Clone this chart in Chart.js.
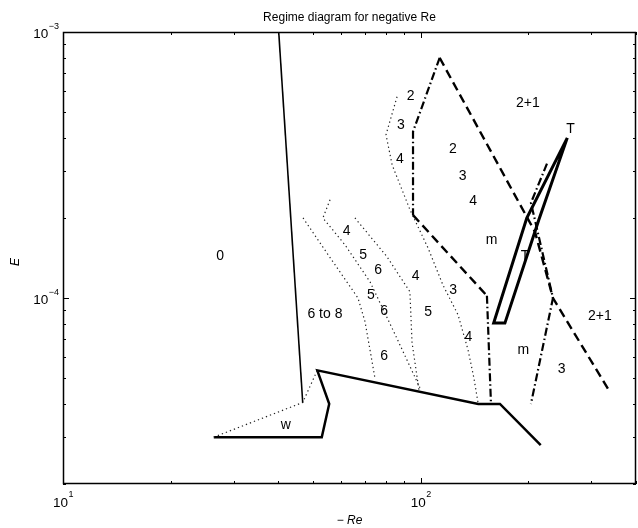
<!DOCTYPE html>
<html>
<head>
<meta charset="utf-8">
<script src="https://cdn.jsdelivr.net/npm/chart.js@4.4.1/dist/chart.umd.min.js"></script>
<style>
  html, body { margin: 0; padding: 0; background: #fff; }
  #wrap { width: 638px; height: 528px; }
</style>
</head>
<body>
<div id="wrap"><canvas id="regimeChart" width="638" height="528"></canvas></div>
<script>
// axis ranges (-Re on x, E on y, both log)
const reMin = 10, reMax = 400;
const eMin = 2e-5, eMax = 1e-3;

const reTicks = [10, 20, 30, 40, 50, 60, 70, 80, 90, 100, 200, 300, 400];
const eTicks = [2e-5, 3e-5, 4e-5, 5e-5, 6e-5, 7e-5, 8e-5, 9e-5,
  1e-4, 2e-4, 3e-4, 4e-4, 5e-4, 6e-4, 7e-4, 8e-4, 9e-4, 1e-3];
const reMajor = [10, 100];
const reMajorExp = ['1', '2'];
const eMajor = [1e-4, 1e-3];
const eMajorExp = ['\u22124', '\u22123'];

// boundary curves
const thinRe = [40.1, 46.8];
const thinE = [1e-3, 4.05e-5];

const wRe = [26.4, 46.8, 51.4];
const wE = [3e-5, 4.05e-5, 5.35e-5];

const floorRe = [26.4, 52.9, 55.5, 51.4, 144.9, 166.6, 216.6];
const floorE = [3e-5, 3e-5, 4e-5, 5.35e-5, 4e-5, 4e-5, 2.8e-5];

const tRe = [257, 198, 160, 172, 214, 257];
const tE = [4e-4, 2e-4, 8.05e-5, 8.05e-5, 1.97e-4, 4e-4];

const dashMainRe = [113, 208.7, 234.4, 338];
const dashMainE = [8e-4, 1.775e-4, 1e-4, 4.44e-5];
const dashMidRe = [95.2, 153.2];
const dashMidE = [2.05e-4, 1.02e-4];

const dashDotTopRe = [113, 95.2, 95.2];
const dashDotTopE = [8e-4, 4.22e-4, 2.05e-4];
const dashDotVertRe = [153.2, 157.2];
const dashDotVertE = [1.02e-4, 4.05e-5];
const dashDotRightRe = [225.5, 203.4, 234.4, 203.4];
const dashDotRightE = [3.2e-4, 2.28e-4, 1e-4, 4e-5];

const dotARe = [85.9, 80.0, 83.2, 93.3, 104.8, 115.4, 127.2, 135.6, 140.9, 144.6];
const dotAE = [5.71e-4, 4.11e-4, 3.17e-4, 2.15e-4, 1.545e-4, 1.12e-4, 8.65e-5, 6.4e-5, 5.0e-5, 4.06e-5];
const dotBRe = [65.5, 80.5, 93.3, 94.6, 98.9];
const dotBE = [2.0e-4, 1.43e-4, 1.056e-4, 6.8e-5, 4.52e-5];
const dotCRe = [55.8, 53.3, 61.4, 72.2, 84.8, 99.5];
const dotCE = [2.34e-4, 2.0e-4, 1.586e-4, 1.15e-4, 7.3e-5, 4.6e-5];
const dotDRe = [46.9, 55.1, 66.8, 69.9, 74.5];
const dotDE = [2.0e-4, 1.455e-4, 1.0e-4, 8.15e-5, 5.0e-5];

// regime labels
const labelText = ['0', '6 to 8', 'w', '2', '3', '4', '2', '3', '4', '2+1', 'T', 'm', 'T',
  '4', '5', '6', '4', '5', '6', '6', '5', '3', '4', 'm', '3', '2+1'];
const labelRe = [27.5, 54.0, 42.0, 93.8, 88.1, 87.5, 123.1, 131.1, 140.3, 199.5, 262.3, 157.9, 195.7,
  62.1, 69.1, 76.1, 96.8, 72.6, 79.1, 79.1, 105.0, 123.3, 135.9, 193.6, 247.9, 317.1];
const labelE = [1.442e-4, 8.73e-5, 3.34e-5, 5.73e-4, 4.48e-4, 3.34e-4, 3.64e-4, 2.86e-4, 2.31e-4, 5.42e-4, 4.31e-4, 1.656e-4, 1.434e-4,
  1.78e-4, 1.455e-4, 1.277e-4, 1.206e-4, 1.029e-4, 8.91e-5, 6.03e-5, 8.86e-5, 1.068e-4, 7.13e-5, 6.39e-5, 5.41e-5, 8.53e-5];

const FONT = "'Liberation Sans', Arial, Helvetica, sans-serif";

function pts(re, e) {
  return re.map((r, i) => ({ x: r, y: e[i] }));
}

function curve(re, e, width, dash, color) {
  return {
    data: pts(re, e),
    borderColor: color || '#000',
    borderWidth: width,
    borderDash: dash || [],
    pointRadius: 0,
    fill: false,
    tension: 0
  };
}

const DOT = [1.3, 3];
const DASH = [9, 5];
const DASHDOT = [8, 3, 1.5, 3];
const DOTCOLOR = '#222';

const decorPlugin = {
  id: 'decor',
  afterDatasetsDraw(chart) {
    const { ctx, chartArea: a, scales: { x, y } } = chart;
    ctx.save();
    ctx.strokeStyle = '#000';
    ctx.fillStyle = '#000';
    ctx.lineWidth = 1;

    // inward ticks on all four sides
    reTicks.forEach(v => {
      const px = Math.round(x.getPixelForValue(v)) + 0.5;
      const len = reMajor.includes(v) ? 6 : 3;
      ctx.beginPath();
      ctx.moveTo(px, a.bottom); ctx.lineTo(px, a.bottom - len);
      ctx.moveTo(px, a.top); ctx.lineTo(px, a.top + len);
      ctx.stroke();
    });
    eTicks.forEach(v => {
      const py = Math.round(y.getPixelForValue(v)) + 0.5;
      const len = eMajor.some(m => Math.abs(m - v) / m < 1e-6) ? 6 : 3;
      ctx.beginPath();
      ctx.moveTo(a.left, py); ctx.lineTo(a.left + len, py);
      ctx.moveTo(a.right, py); ctx.lineTo(a.right - len, py);
      ctx.stroke();
    });

    // frame
    ctx.beginPath();
    ctx.rect(a.left + 0.5, a.top + 0.5, a.right - a.left - 1, a.bottom - a.top - 1);
    ctx.lineWidth = 1.5;
    ctx.stroke();

    // x tick labels 10^n
    ctx.textBaseline = 'alphabetic';
    reMajor.forEach((v, i) => {
      const px = x.getPixelForValue(v);
      ctx.font = '13.5px ' + FONT;
      const w1 = ctx.measureText('10').width;
      ctx.font = '9px ' + FONT;
      const w2 = ctx.measureText(reMajorExp[i]).width;
      const left = px - (w1 + w2) / 2;
      ctx.textAlign = 'left';
      ctx.font = '13.5px ' + FONT;
      ctx.fillText('10', left, a.bottom + 23);
      ctx.font = '9px ' + FONT;
      ctx.fillText(reMajorExp[i], left + w1 + 0.5, a.bottom + 13);
    });

    // y tick labels 10^-n
    eMajor.forEach((v, i) => {
      const py = y.getPixelForValue(v);
      ctx.font = '9px ' + FONT;
      const w2 = ctx.measureText(eMajorExp[i]).width;
      const right = a.left - 4;
      ctx.textAlign = 'right';
      ctx.fillText(eMajorExp[i], right, py - 3);
      ctx.font = '13.5px ' + FONT;
      ctx.fillText('10', right - w2 - 0.5, py + 6);
    });

    // title
    const cx = (a.left + a.right) / 2;
    ctx.font = '12px ' + FONT;
    ctx.textAlign = 'center';
    ctx.fillText('Regime diagram for negative Re', cx, 21);

    // x axis label
    ctx.font = '12px ' + FONT;
    const wMinus = ctx.measureText('\u2212 ').width;
    ctx.font = 'italic 12px ' + FONT;
    const wRe = ctx.measureText('Re').width;
    const x0 = cx - (wMinus + wRe) / 2;
    ctx.textAlign = 'left';
    ctx.font = '12px ' + FONT;
    ctx.fillText('\u2212 ', x0, 524);
    ctx.font = 'italic 12px ' + FONT;
    ctx.fillText('Re', x0 + wMinus, 524);

    // y axis label
    ctx.save();
    ctx.translate(19, 262);
    ctx.rotate(-Math.PI / 2);
    ctx.textAlign = 'center';
    ctx.font = 'italic 12px ' + FONT;
    ctx.fillText('E', 0, 0);
    ctx.restore();

    // regime labels
    ctx.font = '14px ' + FONT;
    ctx.textAlign = 'center';
    ctx.textBaseline = 'middle';
    labelText.forEach((t, i) => {
      ctx.fillText(t, x.getPixelForValue(labelRe[i]), y.getPixelForValue(labelE[i]));
    });

    ctx.restore();
  }
};

new Chart(document.getElementById('regimeChart'), {
  type: 'line',
  data: {
    datasets: [
      curve(thinRe, thinE, 1.6),
      curve(wRe, wE, 1.2, DOT, DOTCOLOR),
      curve(floorRe, floorE, 2.5),
      curve(tRe, tE, 3),
      curve(dashMainRe, dashMainE, 2.4, DASH),
      curve(dashMidRe, dashMidE, 2.4, DASH),
      curve(dashDotTopRe, dashDotTopE, 2.2, DASHDOT),
      curve(dashDotVertRe, dashDotVertE, 2.2, DASHDOT),
      curve(dashDotRightRe, dashDotRightE, 2.2, DASHDOT),
      curve(dotARe, dotAE, 1.2, DOT, DOTCOLOR),
      curve(dotBRe, dotBE, 1.2, DOT, DOTCOLOR),
      curve(dotCRe, dotCE, 1.2, DOT, DOTCOLOR),
      curve(dotDRe, dotDE, 1.2, DOT, DOTCOLOR)
    ]
  },
  options: {
    responsive: false,
    devicePixelRatio: 1,
    animation: false,
    events: [],
    layout: { padding: { left: 63, right: 2, top: 32, bottom: 44 } },
    elements: { line: { borderCapStyle: 'butt', borderJoinStyle: 'miter' } },
    plugins: { legend: { display: false }, tooltip: { enabled: false }, title: { display: false } },
    scales: {
      x: { type: 'logarithmic', min: reMin, max: reMax, display: false },
      y: { type: 'logarithmic', min: eMin, max: eMax, display: false }
    }
  },
  plugins: [decorPlugin]
});
</script>
</body>
</html>
